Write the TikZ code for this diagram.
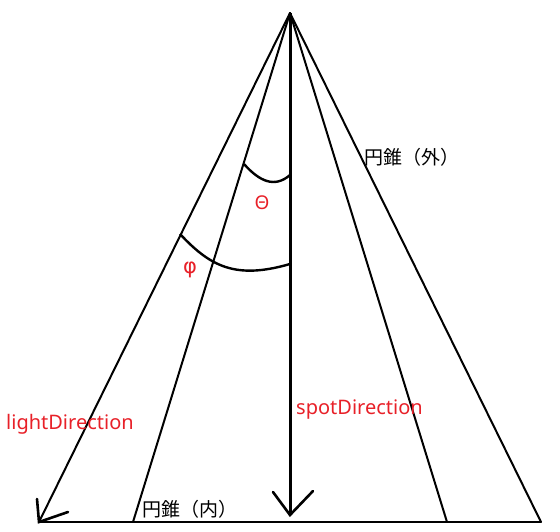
\documentclass[tikz,border=0pt]{standalone}
\usepackage{fontspec}
\setmainfont{Noto Sans}
\newfontfamily\jp{Noto Sans CJK JP}
\newfontfamily\dv{DejaVu Sans}
\definecolor{lblred}{RGB}{232,32,40}
\begin{document}
\begin{tikzpicture}[x=1pt,y=-1pt,
  cone/.style={line width=2pt,line cap=round},
  axis/.style={line width=3pt},
  arm/.style={line width=2.6pt,line cap=round},
  arcl/.style={line width=2.4pt},
  redlbl/.style={text=lblred,inner sep=0pt,font=\fontsize{20}{20}\selectfont},
  jplbl/.style={text=black,inner sep=0pt,font=\jp\fontsize{19}{19}\selectfont}]
\fill[white] (0,0) rectangle (560,531);
\useasboundingbox (0,0) rectangle (560,531);
\coordinate (apex) at (290,13);
\coordinate (ltip) at (39,522);
\coordinate (linb) at (133,522);
\coordinate (stip) at (290,515);
\coordinate (rinb) at (447,522);
\coordinate (routb) at (541,522);
% cone lines
\draw[cone] (apex) -- (ltip);
\draw[cone] (apex) -- (linb);
\draw[cone] (apex) -- (rinb);
\draw[cone] (apex) -- (routb);
\draw[cone] (ltip) -- (routb);
% spot direction arrow
\draw[axis] (apex) -- (stip);
\coordinate (sa1) at (273,492);
\coordinate (sa2) at (313,491);
\draw[arm] (sa1) -- (stip) -- (sa2);
% light direction arrowhead
\coordinate (la1) at (37,499);
\coordinate (la2) at (68,512);
\draw[arm] (la1) -- (ltip) -- (la2);
% angle arcs
\coordinate (ta) at (244,164);
\coordinate (tb) at (290,175);
\draw[arcl] (ta) .. controls (260,182) and (275,188) .. (tb);
\coordinate (pa) at (180,234);
\coordinate (pb) at (290,264);
\draw[arcl] (pa) .. controls (210,266) and (235,280) .. (pb);
% labels
\node[redlbl,font=\fontsize{19}{19}\selectfont] (theta) at (262,203) {Θ};
\node[redlbl,font=\dv\fontsize{21}{21}\selectfont] (phi) at (190,270) {φ};
\node[redlbl,anchor=base west] (ld) at (6,429) {lightDirection};
\node[redlbl,anchor=base west] (sd) at (296,414) {spotDirection};
\node[jplbl,anchor=west] (outer) at (364,157) {円錐（外）};
\node[jplbl,anchor=west] (inner) at (142,509) {円錐（内）};
\end{tikzpicture}
\end{document}
